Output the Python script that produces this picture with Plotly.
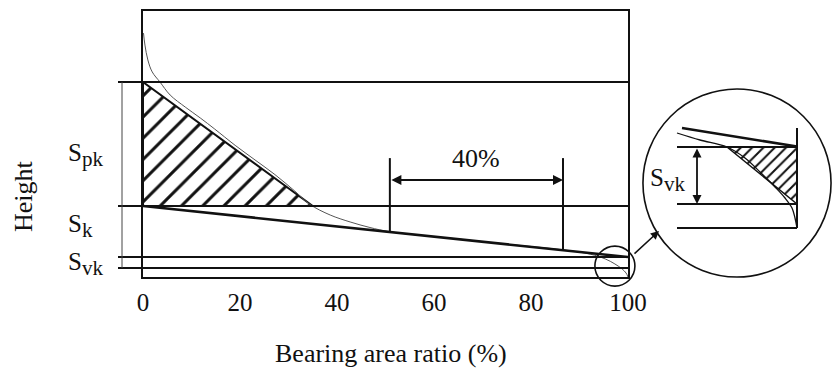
import plotly.graph_objects as go

W, H = 833, 369

# ---------------- data ----------------
# Bearing (Abbott-Firestone) curve: bearing area ratio (%) vs height (arb. units)
curve_x = [0.1, 0.4, 1.0, 1.9, 3.5, 5.6, 8.7, 11.8, 14.8, 19.0, 23.1, 27.2, 31.3, 34.4,
           38.6, 42.7, 46.8, 50.9, 63.3, 73.6, 86.6, 92.2, 95.3, 97.3, 98.8, 99.6, 100.0]
curve_h = [91.7, 87.2, 81.6, 77.1, 73.3, 68.4, 63.9, 59.8, 55.6, 49.5, 44.0, 38.5, 32.3, 27.3,
           23.3, 20.7, 18.6, 17.0, 14.6, 12.6, 10.2, 8.6, 6.8, 4.9, 3.0, 1.5, 0.0]

# equivalent straight line (fitted over the 40 % window)
line_x = [0, 100]
line_h = [26.7, 7.5]

# characteristic levels
level_spk_top = 73.3
level_sk_top = 26.7
level_sk_bottom = 7.5
level_svk_bottom = 3.4
levels = [level_spk_top, level_sk_top, level_sk_bottom, level_svk_bottom]

# Spk hatched triangle
spk_tri_x = [0, 0, 35.0, 0]
spk_tri_h = [level_spk_top, level_sk_top, level_sk_top, level_spk_top]

# 40 % window
window_x = [50.9, 86.6]
window_label = "40%"

# zoom spot on the curve
zoom_x = [97.3]
zoom_h = [4.1]

x_ticks = [0, 20, 40, 60, 80, 100]
x_tick_text = ["0", "20", "40", "60", "80", "100"]

# magnified detail (inset units)
inset_curve_u = [35, 58, 85, 103, 118, 133, 143, 150, 153, 155]
inset_curve_v = [145, 138, 131, 120, 106, 91, 80, 70, 60, 50]
inset_line_u = [40, 155]
inset_line_v = [150, 131.5]
inset_levels_v = [131, 74, 50]
inset_level_u = [35, 155]
inset_edge_u = 155
inset_edge_v = [150, 50]
inset_tri_u = [85, 155, 155, 85]
inset_tri_v = [131, 131, 74, 131]

# ---------------- styling ----------------
SERIF = "Liberation Serif, Times New Roman, serif"
INK = "#111111"


def px_x(p):
    return p / W


def px_y(p):
    return 1 - p / H


def line_at(x):
    return line_h[0] + (line_h[1] - line_h[0]) * (x - line_x[0]) / (line_x[1] - line_x[0])


def sym(main, sub, subsize=21):
    return f'{main}<sub><span style="font-size:{subsize}px">{sub}</span></sub>'


fig = go.Figure()

# Spk hatched triangle
fig.add_trace(go.Scatter(
    x=spk_tri_x, y=spk_tri_h, mode="lines", fill="toself",
    fillpattern=dict(shape="/", size=15, solidity=0.2, fgcolor=INK, bgcolor="white",
                     fillmode="replace"),
    line=dict(color=INK, width=2), hoverinfo="skip", showlegend=False,
    xaxis="x", yaxis="y"))

# bearing curve
fig.add_trace(go.Scatter(
    x=curve_x, y=curve_h, mode="lines", line=dict(color="#555555", width=1, shape="spline"),
    showlegend=False, xaxis="x", yaxis="y"))

# equivalent straight line
fig.add_trace(go.Scatter(
    x=line_x, y=line_h, mode="lines", line=dict(color=INK, width=2.5),
    showlegend=False, xaxis="x", yaxis="y"))

# 40% window verticals
win_top = 44.7
fig.add_trace(go.Scatter(
    x=[window_x[0], window_x[0], None, window_x[1], window_x[1]],
    y=[win_top, line_at(window_x[0]), None, win_top, line_at(window_x[1])],
    mode="lines", line=dict(color=INK, width=2), showlegend=False, xaxis="x", yaxis="y"))

# zoom circle on the main plot
fig.add_trace(go.Scatter(
    x=zoom_x, y=zoom_h, mode="markers", cliponaxis=False,
    marker=dict(symbol="circle-open", size=40, color=INK, line=dict(width=1.6)),
    showlegend=False, xaxis="x", yaxis="y"))

# dimension ticks on the left
fig.add_trace(go.Scatter(
    x=[-4.3] * len(levels), y=levels, mode="markers", cliponaxis=False,
    marker=dict(symbol="line-ew", size=9, color=INK, line=dict(width=2, color=INK)),
    showlegend=False, xaxis="x", yaxis="y"))

# ---- inset traces ----
fig.add_trace(go.Scatter(
    x=inset_tri_u, y=inset_tri_v, mode="lines", fill="toself",
    fillpattern=dict(shape="/", size=8, solidity=0.25, fgcolor=INK, bgcolor="white",
                     fillmode="replace"),
    line=dict(color=INK, width=1.5), showlegend=False, xaxis="x2", yaxis="y2"))
lv_u, lv_v = [], []
for v in inset_levels_v:
    lv_u += [inset_level_u[0], inset_level_u[1], None]
    lv_v += [v, v, None]
fig.add_trace(go.Scatter(x=lv_u, y=lv_v, mode="lines", line=dict(color=INK, width=2),
                         showlegend=False, xaxis="x2", yaxis="y2"))
fig.add_trace(go.Scatter(x=[inset_edge_u, inset_edge_u], y=inset_edge_v, mode="lines",
                         line=dict(color=INK, width=2), showlegend=False, xaxis="x2", yaxis="y2"))
fig.add_trace(go.Scatter(x=inset_line_u, y=inset_line_v, mode="lines",
                         line=dict(color=INK, width=2.5), showlegend=False, xaxis="x2", yaxis="y2"))
fig.add_trace(go.Scatter(x=inset_curve_u, y=inset_curve_v, mode="lines",
                         line=dict(color=INK, width=1.3, shape="spline"),
                         showlegend=False, xaxis="x2", yaxis="y2"))

# ---------------- shapes ----------------
shapes = []
for lv in levels:
    shapes.append(dict(type="line", xref="paper", yref="y", x0=px_x(118), x1=px_x(628),
                       y0=lv, y1=lv, line=dict(color=INK, width=2)))
shapes.append(dict(type="line", xref="paper", yref="y", x0=px_x(122), x1=px_x(122),
                   y0=level_svk_bottom, y1=level_spk_top, line=dict(color="#444444", width=1)))
shapes.append(dict(type="circle", xref="x2 domain", yref="y2 domain", x0=0.005, x1=0.995,
                   y0=0.005, y1=0.995, line=dict(color=INK, width=1.6)))

# ---------------- annotations ----------------
ann = []
# 40% double arrow
ann.append(dict(x=window_x[1], y=36.5, ax=window_x[0], ay=36.5, xref="x", yref="y",
                axref="x", ayref="y", showarrow=True, arrowhead=2, arrowside="end+start",
                arrowsize=1, arrowwidth=2, arrowcolor=INK, text="", standoff=0, startstandoff=0))
ann.append(dict(x=(window_x[0] + window_x[1]) / 2, y=44.7, xref="x", yref="y",
                text=window_label, showarrow=False, font=dict(family=SERIF, size=26, color=INK),
                xanchor="center", yanchor="middle"))
# inset double arrow
ann.append(dict(x=55, y=inset_levels_v[1], ax=55, ay=inset_levels_v[0], xref="x2", yref="y2",
                axref="x2", ayref="y2", showarrow=True, arrowhead=2, arrowside="end+start",
                arrowsize=1, arrowwidth=1.8, arrowcolor=INK, text="", standoff=0, startstandoff=0))
ann.append(dict(x=25, y=98, xref="x2", yref="y2", text=sym("S", "vk"), showarrow=False,
                font=dict(family=SERIF, size=25, color=INK), xanchor="center", yanchor="middle"))
# arrow from small circle to big circle
ann.append(dict(x=px_x(659), y=px_y(231), xref="paper", yref="paper", ax=-26, ay=24,
                showarrow=True, arrowhead=2, arrowsize=1.1, arrowwidth=1.5, arrowcolor=INK,
                text=""))
# labels
for txt, cx, cy in [(sym("S", "pk"), 85, 155), (sym("S", "k"), 80, 226),
                    (sym("S", "vk"), 85, 264)]:
    ann.append(dict(x=px_x(cx), y=px_y(cy), xref="paper", yref="paper", text=txt,
                    showarrow=False, font=dict(family=SERIF, size=25, color=INK),
                    xanchor="center", yanchor="middle"))
ann.append(dict(x=px_x(23), y=px_y(196), xref="paper", yref="paper", text="Height",
                textangle=-90, showarrow=False, font=dict(family=SERIF, size=26, color=INK),
                xanchor="center", yanchor="middle"))
ann.append(dict(x=px_x(391), y=px_y(353), xref="paper", yref="paper",
                text="Bearing area ratio (%)", showarrow=False,
                font=dict(family=SERIF, size=26, color=INK), xanchor="center", yanchor="middle"))

fig.update_layout(
    width=W, height=H, margin=dict(l=0, r=0, t=0, b=0),
    paper_bgcolor="white", plot_bgcolor="white", showlegend=False,
    xaxis=dict(domain=[px_x(143), px_x(628)], range=[0, 100], showgrid=False, zeroline=False,
               showline=True, mirror=True, linewidth=2, linecolor=INK, ticks="",
               tickvals=x_ticks, ticktext=x_tick_text, ticklabelstandoff=2,
               tickfont=dict(family=SERIF, size=25, color=INK), automargin=False,
               anchor="y"),
    yaxis=dict(domain=[px_y(277), px_y(11)], range=[0, 100], showgrid=False, zeroline=False,
               showline=True, mirror=True, linewidth=2, linecolor=INK, showticklabels=False,
               ticks="", automargin=False, anchor="x"),
    xaxis2=dict(domain=[px_x(642), px_x(832)], range=[0, 190], visible=False, anchor="y2"),
    yaxis2=dict(domain=[px_y(278), px_y(88)], range=[0, 190], visible=False, anchor="x2"),
    shapes=shapes, annotations=ann,
)

fig.write_html("out.html", config={"displayModeBar": False},
               post_script="document.body.style.margin='0px';document.body.style.padding='0px';")
